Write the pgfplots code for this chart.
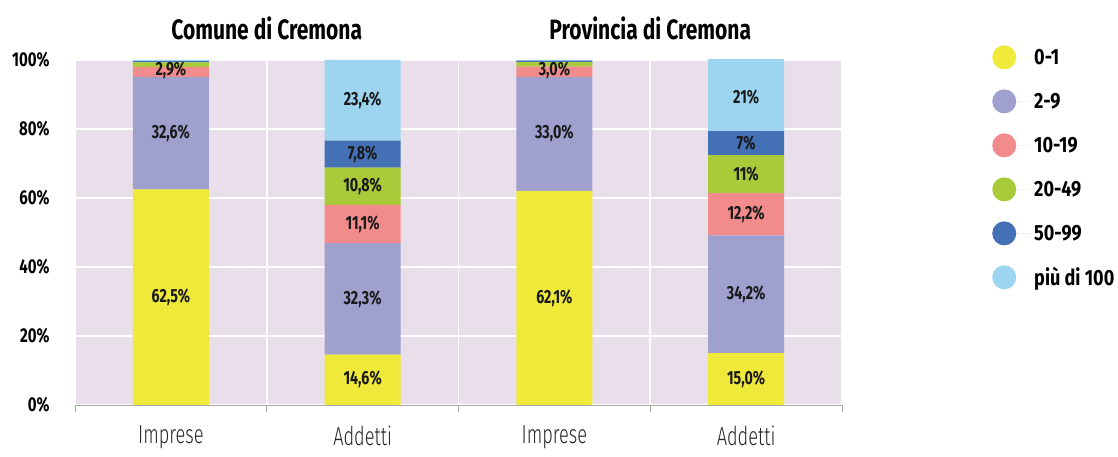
\documentclass[border=0pt]{standalone}
\usepackage{fontspec}
\setmainfont{Fira Sans}[FakeStretch=0.75]
\newfontfamily\lightfont{Fira Sans Light}[FakeStretch=0.7]
\newfontfamily\legfont{Fira Sans}[FakeStretch=0.82]
\usepackage{pgfplots}
\pgfplotsset{compat=1.18}
\definecolor{cA}{HTML}{EFEA3A}
\definecolor{cB}{HTML}{9FA0CE}
\definecolor{cC}{HTML}{F28C8C}
\definecolor{cD}{HTML}{A9CB3A}
\definecolor{cE}{HTML}{4470B5}
\definecolor{cF}{HTML}{9DD5F0}
\definecolor{bgc}{HTML}{E9DFEB}
\definecolor{axgray}{HTML}{A8A8A8}
\pgfplotsset{
  circ legend/.style={legend image code/.code={\fill[##1,draw=none] (12pt,0pt) circle (12pt);\path (0pt,0pt) -- (40pt,0pt);}},
  common/.style={scale only axis, width=767pt, height=345pt,
    xmin=-0.5, xmax=3.5, ymin=0, ymax=100},
}
\begin{document}
\begin{tikzpicture}
\path (-75pt,-52pt) rectangle (1043pt,405pt);
\begin{axis}[common,
  ybar stacked, bar width=76pt,
  axis background/.style={fill=bgc},
  axis lines*=left,
  axis line style={draw=axgray, line width=0.8pt},
  xtick={0,1,2,3}, xticklabels={Imprese,Addetti,Imprese,Addetti},
  x tick label style={font=\lightfont\fontsize{26}{26}\selectfont, text=black!85, yshift=-17pt},
  xtick style={draw=none},
  extra x ticks={-0.5,0.5,1.5,2.5,3.5},
  extra x tick labels={},
  extra x tick style={grid=major, xtick style={draw=axgray, line width=0.8pt}, major tick length=7pt, tick align=outside},
  ytick={0,20,40,60,80,100},
  ymajorgrids,
  major grid style={draw=white, line width=1.6pt},
  ytick style={draw=none},
  yticklabel={\pgfmathprintnumber{\tick}\%},
  y tick label style={font=\bfseries\fontsize{20}{20}\selectfont, xshift=-22pt},
  /pgf/number format/assume math mode=true,
  legend style={at={(1.1956,1.043)}, anchor=north west, draw=none, fill=none,
    font=\legfont\bfseries\fontsize{22}{22}\selectfont, row sep=20pt, inner sep=0pt},
  legend cell align=left,
]
\addplot[fill=cA, draw=none, circ legend] coordinates {(0,62.5) (1,14.6) (2,62.1) (3,15.0)};
\addplot[fill=cB, draw=none, circ legend] coordinates {(0,32.6) (1,32.3) (2,33.0) (3,34.2)};
\addplot[fill=cC, draw=none, circ legend] coordinates {(0,2.9) (1,11.1) (2,3.0) (3,12.2)};
\addplot[fill=cD, draw=none, circ legend] coordinates {(0,1.3) (1,10.8) (2,1.3) (3,11.0)};
\addplot[fill=cE, draw=none, circ legend] coordinates {(0,0.4) (1,7.8) (2,0.4) (3,7.0)};
\addplot[fill=cF, draw=none, circ legend] coordinates {(0,0.3) (1,23.4) (2,0.2) (3,21.0)};
\legend{0-1,2-9,10-19,20-49,50-99,più di 100}
\end{axis}
\begin{axis}[common, hide axis, clip=false,
  nodes near coords, point meta=explicit symbolic,
  every node near coord/.append style={anchor=center, font=\bfseries\fontsize{19}{19}\selectfont, text=black!90},
]
\addplot[draw=none] coordinates {
 (0,31.25) [62,5\%] (0,78.8) [32,6\%] (0,97.0) [2,9\%]
 (1,7.3) [14,6\%] (1,30.75) [32,3\%] (1,52.45) [11,1\%] (1,63.4) [10,8\%] (1,72.7) [7,8\%] (1,88.3) [23,4\%]
 (2,31.05) [62,1\%] (2,78.6) [33,0\%] (2,97.0) [3,0\%]
 (3,7.5) [15,0\%] (3,32.1) [34,2\%] (3,55.3) [12,2\%] (3,66.9) [11\%] (3,75.9) [7\%] (3,89.3) [21\%]
};
\node[font=\bfseries\fontsize{28}{28}\selectfont] at (axis cs:0.5,100) [yshift=32pt] {Comune di Cremona};
\node[font=\bfseries\fontsize{28}{28}\selectfont] at (axis cs:2.5,100) [yshift=32pt] {Provincia di Cremona};
\end{axis}
\end{tikzpicture}
\end{document}
